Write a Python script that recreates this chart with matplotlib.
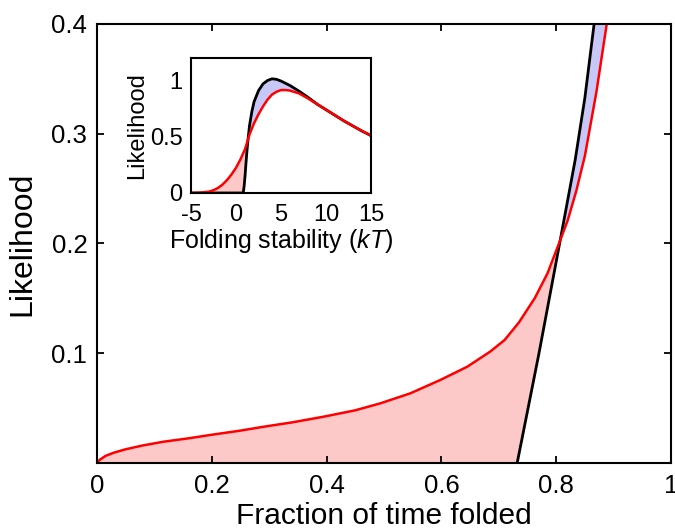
import numpy as np
import matplotlib
matplotlib.use('Agg')
import matplotlib.pyplot as plt

plt.rcParams['font.family'] = ['Liberation Sans', 'DejaVu Sans']
plt.rcParams['mathtext.fontset'] = 'custom'
plt.rcParams['mathtext.it'] = 'Liberation Sans:italic'
plt.rcParams['mathtext.rm'] = 'Liberation Sans'

# main panel: likelihood vs fraction of time folded
red_x = [0.0, 0.005, 0.015, 0.03, 0.05, 0.08, 0.116, 0.16, 0.197, 0.25, 0.29, 0.34, 0.395,
         0.45, 0.494, 0.546, 0.598, 0.645, 0.685, 0.71, 0.735, 0.763, 0.785, 0.807,
         0.82, 0.835, 0.85, 0.87, 0.888]
red_y = [0.0, 0.003, 0.0065, 0.0095, 0.0125, 0.016, 0.0194, 0.0225, 0.0255, 0.0295, 0.033,
         0.037, 0.0422, 0.048, 0.0544, 0.0635, 0.0756, 0.0877, 0.1015, 0.112, 0.128, 0.1505,
         0.173, 0.203, 0.221, 0.248, 0.280, 0.338, 0.4]
black_x = [0.732, 0.770, 0.807, 0.833, 0.850, 0.866]
black_y = [0.0, 0.100, 0.203, 0.276, 0.333, 0.4]
cross_x = 0.807

# inset: likelihood vs folding stability (kT)
in_red_x = [-5, -4, -3, -2.5, -2, -1.5, -1, -0.5, 0, 0.5, 1, 1.33, 1.5, 2, 2.5, 3, 3.5, 4,
            4.5, 5, 5.5, 6, 7, 8, 9, 10, 11, 12, 13, 14, 15]
in_red_y = [0.0, 0.003, 0.012, 0.025, 0.045, 0.075, 0.115, 0.165, 0.225, 0.3, 0.39, 0.475,
            0.52, 0.62, 0.70, 0.77, 0.83, 0.875, 0.90, 0.915, 0.915, 0.91, 0.885, 0.84, 0.79,
            0.74, 0.69, 0.64, 0.595, 0.55, 0.51]
in_black_x = [-5, 0.8, 0.9, 1.0, 1.1, 1.2, 1.33, 1.5, 1.75, 2.0, 2.5, 3.0, 3.5, 4.0, 4.5,
              5.0, 6, 7, 8, 9, 10, 11, 12, 13, 14, 15]
in_black_y = [0.0, 0.0, 0.06, 0.15, 0.26, 0.36, 0.475, 0.6, 0.72, 0.81, 0.91, 0.97, 1.0,
              1.015, 1.01, 0.995, 0.955, 0.905, 0.85, 0.79, 0.74, 0.69, 0.64, 0.595, 0.55, 0.51]
in_cross_x = 1.33
in_merge_x = 9.0

pink = '#fcc8c8'
blue = '#c8c8f8'

red_x, red_y = np.array(red_x), np.array(red_y)
black_x, black_y = np.array(black_x), np.array(black_y)
in_red_x, in_red_y = np.array(in_red_x), np.array(in_red_y)
in_black_x, in_black_y = np.array(in_black_x), np.array(in_black_y)

fig = plt.figure(figsize=(6.75, 5.29), dpi=100)
ax = fig.add_axes([0.1437, 0.1248, 0.8504, 0.8299])

# pink: red above black (left of crossing)
r = red_x <= cross_x
b = black_x <= cross_x
px = np.concatenate([red_x[r], black_x[b][::-1]])
py = np.concatenate([red_y[r], black_y[b][::-1]])
ax.fill(px, py, color=pink, lw=0)
# blue: black above red (right of crossing)
r = red_x >= cross_x
b = black_x >= cross_x
px = np.concatenate([black_x[b], red_x[r][::-1]])
py = np.concatenate([black_y[b], red_y[r][::-1]])
ax.fill(px, py, color=blue, lw=0)

ax.plot(black_x, black_y, color='black', lw=2, solid_capstyle='butt')
ax.plot(red_x, red_y, color='red', lw=1.8)

ax.set_xlim(0, 1)
ax.set_ylim(0, 0.4)
ax.set_xticks([0, 0.2, 0.4, 0.6, 0.8, 1])
ax.set_xticklabels(['0', '0.2', '0.4', '0.6', '0.8', '1'])
ax.set_yticks([0.1, 0.2, 0.3, 0.4])
ax.set_yticklabels(['0.1', '0.2', '0.3', '0.4'])
ax.tick_params(direction='in', length=5, width=1.3, labelsize=18.5, top=True, right=True)
ax.tick_params(axis='x', pad=8)
ax.tick_params(axis='y', pad=7)
for s in ax.spines.values():
    s.set_linewidth(1.5)
ax.set_xlabel('Fraction of time folded', fontsize=21.5)
ax.xaxis.set_label_coords(0.5, -0.09)
ax.set_ylabel('Likelihood', fontsize=23, labelpad=10)

# inset
ins = fig.add_axes([0.283, 0.6352, 0.2667, 0.2552])
r = in_red_x <= in_cross_x
b = in_black_x <= in_cross_x
px = np.concatenate([in_red_x[r], in_black_x[b][::-1]])
py = np.concatenate([in_red_y[r], in_black_y[b][::-1]])
ins.fill(px, py, color=pink, lw=0)
r = (in_red_x >= in_cross_x) & (in_red_x <= in_merge_x)
b = (in_black_x >= in_cross_x) & (in_black_x <= in_merge_x)
px = np.concatenate([in_black_x[b], in_red_x[r][::-1]])
py = np.concatenate([in_black_y[b], in_red_y[r][::-1]])
ins.fill(px, py, color=blue, lw=0)

ins.plot(in_black_x, in_black_y, color='black', lw=2)
ins.plot(in_red_x, in_red_y, color='red', lw=1.8)
ins.set_xlim(-5, 15)
ins.set_ylim(0, 1.2)
ins.set_xticks([-5, 0, 5, 10, 15])
ins.set_xticklabels(['-5', '0', '5', '10', '15'])
ins.set_yticks([0, 0.5, 1])
ins.set_yticklabels(['0', '0.5', '1'])
ins.tick_params(direction='in', length=0, labelsize=17)
ins.tick_params(axis='x', pad=8)
ins.tick_params(axis='y', pad=6)
for s in ins.spines.values():
    s.set_linewidth(1.5)
ins.set_xlabel(r'Folding stability ($\mathit{kT}$)', fontsize=18, labelpad=1)
ins.set_ylabel('Likelihood', fontsize=17, labelpad=1)

fig.savefig('out.png', dpi=100)
